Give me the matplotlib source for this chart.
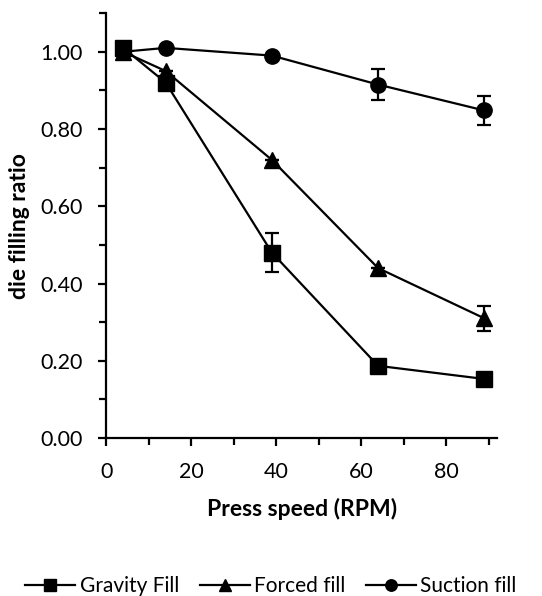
import matplotlib.pyplot as plt
from matplotlib.ticker import MultipleLocator, FormatStrFormatter

speed = [4, 14, 39, 64, 89]

gravity = [1.01, 0.92, 0.48, 0.187, 0.153]
gravity_err = [0.0, 0.0, 0.05, 0.0, 0.0]

forced = [1.0, 0.95, 0.72, 0.44, 0.31]
forced_err = [0.0, 0.0, 0.0, 0.0, 0.033]

suction = [1.0, 1.01, 0.99, 0.915, 0.848]
suction_err = [0.0, 0.0, 0.0, 0.04, 0.037]

labels = ["Gravity Fill", "Forced fill", "Suction fill"]

plt.rcParams['font.family'] = ['Lato', 'DejaVu Sans']

fig = plt.figure(figsize=(5.42, 5.96), dpi=100)
ax = fig.add_axes([0.196, 0.265, 0.721, 0.713])

series = [(gravity, gravity_err, 's'), (forced, forced_err, '^'), (suction, suction_err, 'o')]
for (vals, errs, mk), lab in zip(series, labels):
    ax.errorbar(speed, vals, yerr=errs, color='black', marker=mk, markersize=11,
                linewidth=1.6, elinewidth=1.6, capsize=5, capthick=1.6, label=lab)

ax.set_xlim(0, 92)
ax.set_ylim(0, 1.1)
ax.xaxis.set_major_locator(MultipleLocator(20))
ax.xaxis.set_minor_locator(MultipleLocator(10))
ax.yaxis.set_major_locator(MultipleLocator(0.2))
ax.yaxis.set_minor_locator(MultipleLocator(0.1))
ax.yaxis.set_major_formatter(FormatStrFormatter('%.2f'))

for s in ['top', 'right']:
    ax.spines[s].set_visible(False)
for s in ['left', 'bottom']:
    ax.spines[s].set_linewidth(1.6)

ax.tick_params(which='both', direction='out', width=1.6, labelsize=15.5)
ax.tick_params(which='major', length=6, pad=11)
ax.tick_params(which='minor', length=5)

ax.set_xlabel('Press speed (RPM)', fontsize=16.5, fontweight='bold', labelpad=12)
ax.set_ylabel('die filling ratio', fontsize=16.5, fontweight='bold', labelpad=7)

handles, labs = ax.get_legend_handles_labels()
handles = [h[0] for h in handles]
fig.legend(handles, labs, loc='lower center', bbox_to_anchor=(0.5, -0.032), ncol=3,
           frameon=False, fontsize=15, handlelength=2.4, handletextpad=0.2,
           columnspacing=1.0, markerscale=0.75)

fig.savefig('out.png', dpi=100)
